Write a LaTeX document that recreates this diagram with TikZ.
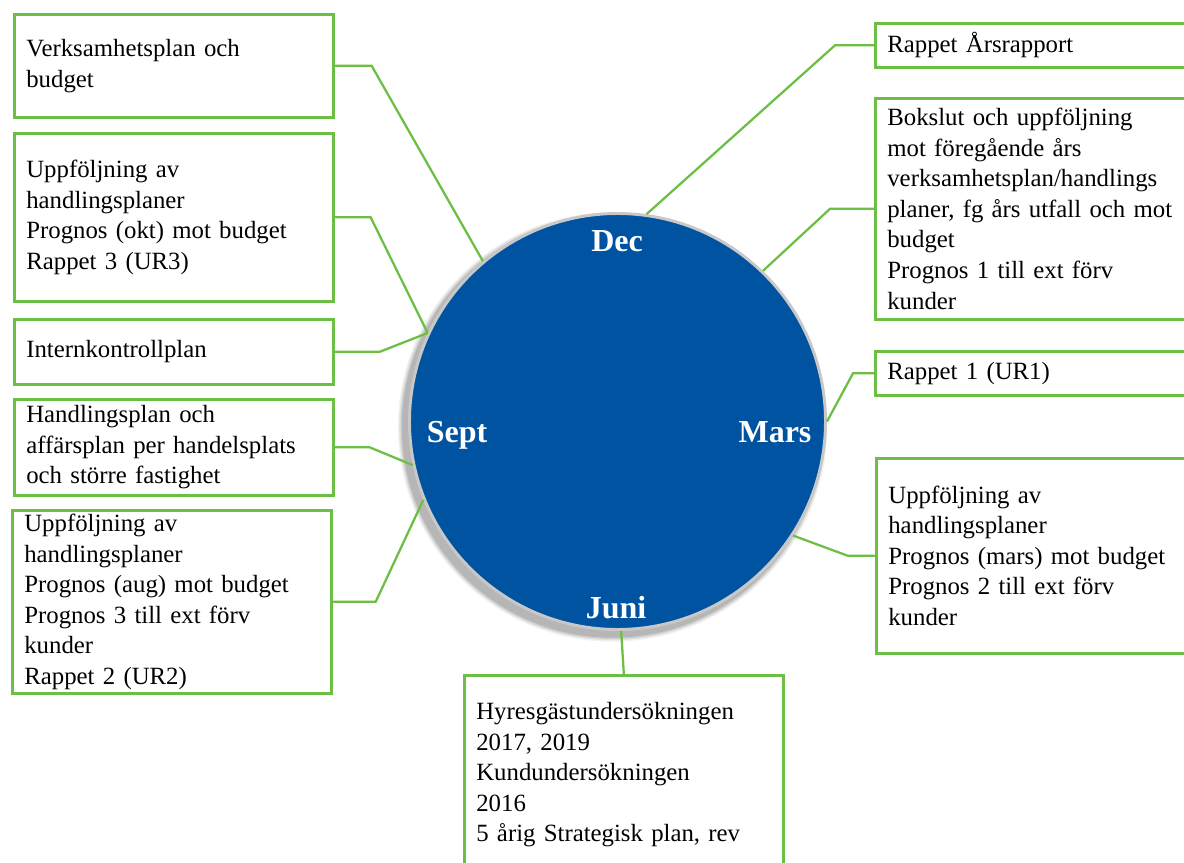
\documentclass[tikz,border=0pt]{standalone}
\usepackage{fontspec}
\setmainfont{Liberation Serif}
\definecolor{boxgreen}{RGB}{108,190,69}
\definecolor{clockblue}{RGB}{0,83,160}
\definecolor{rimgray}{RGB}{200,200,200}
\begin{document}
\begin{tikzpicture}[x=0.75pt,y=-0.75pt,
  box/.style={draw=boxgreen, line width=2pt, fill=white, anchor=north west, align=left,
    inner xsep=9pt, inner ysep=0pt, font=\fontsize{18.6pt}{22.9pt}\selectfont},
  lbox/.style={box, minimum width=239.25pt, text width=221.25pt},
  rbox/.style={box, minimum width=255pt, text width=237pt},
  link/.style={draw=boxgreen, line width=1.7pt},
  month/.style={text=white, font=\fontsize{24pt}{28pt}\selectfont\bfseries, anchor=base, inner sep=0pt}]
\useasboundingbox (0,0) rectangle (1184,863);

% shadow of the clock face
\foreach \r/\o in {161/0.05,160/0.07,159/0.09,158/0.11}
  \fill[black, opacity=\o] (612.5,427) circle[radius=\r pt];

\node[circle, fill=clockblue, draw=rimgray, line width=2.2pt, minimum size=312pt, inner sep=0pt] (clk) at (617.5,421.5) {};

\node[month] (dec) at (617,251) {Dec};
\node[month] (sept) at (457,442) {Sept};
\node[month] (mars) at (775,442) {Mars};
\node[month] (juni) at (616,618) {Juni};

% left boxes
\node[lbox, minimum height=77.25pt] (b1) at (13,13) {Verksamhetsplan och\\budget};
\node[lbox, minimum height=126pt] (b2) at (13,132) {Uppföljning av\\handlingsplaner\\Prognos (okt) mot budget\\Rappet 3 (UR3)};
\node[lbox, minimum height=48.75pt] (b3) at (13,318) {Internkontrollplan};
\node[lbox, minimum height=72pt] (b4) at (13,398) {Handlingsplan och\\affärsplan per handelsplats\\och större fastighet};
\node[lbox, minimum height=137.25pt] (b5) at (11,509) {Uppföljning av\\handlingsplaner\\Prognos (aug) mot budget\\Prognos 3 till ext förv\\kunder\\Rappet 2 (UR2)};

% right boxes
\node[rbox, minimum height=33pt] (b6) at (874,22) {Rappet Årsrapport};
\node[rbox, minimum height=165.75pt] (b7) at (874,97) {Bokslut och uppföljning\\mot föregående års\\verksamhetsplan/handlings\\planer, fg års utfall och mot\\budget\\Prognos 1 till ext förv\\kunder};
\node[rbox, minimum height=33pt] (b8) at (874,350) {Rappet 1 (UR1)};
\node[rbox, minimum height=146.25pt] (b9) at (875,457) {Uppföljning av\\handlingsplaner\\Prognos (mars) mot budget\\Prognos 2 till ext förv\\kunder};

% bottom box
\node[lbox, minimum height=149.25pt] (b10) at (463,674) {Hyresgästundersökningen\\2017, 2019\\Kundundersökningen\\2016\\5 årig Strategisk plan, rev};

% connectors
\draw[link] (b1.east) -- ++(37,0) -- (clk.130);
\draw[link] (b2.east) -- ++(36,0) -- (clk.155);
\draw[link] (b3.east) -- ++(45,0) -- (clk.155);
\draw[link] (b4.east) -- ++(35,0) -- (clk.192);
\draw[link] (b5.east) -- ++(43,0) -- (clk.202);
\draw[link] (b6.west) -- ++(-39,0) -- (clk.82);
\draw[link] (b7.west) -- ++(-44,0) -- (clk.46);
\draw[link] (b8.west) -- ++(-21,0) -- (clk.0);
\draw[link] (b9.west) -- ++(-27,0) -- (clk.-33);
\draw[link] (b10.north) -- (clk.-89);
\end{tikzpicture}
\end{document}
